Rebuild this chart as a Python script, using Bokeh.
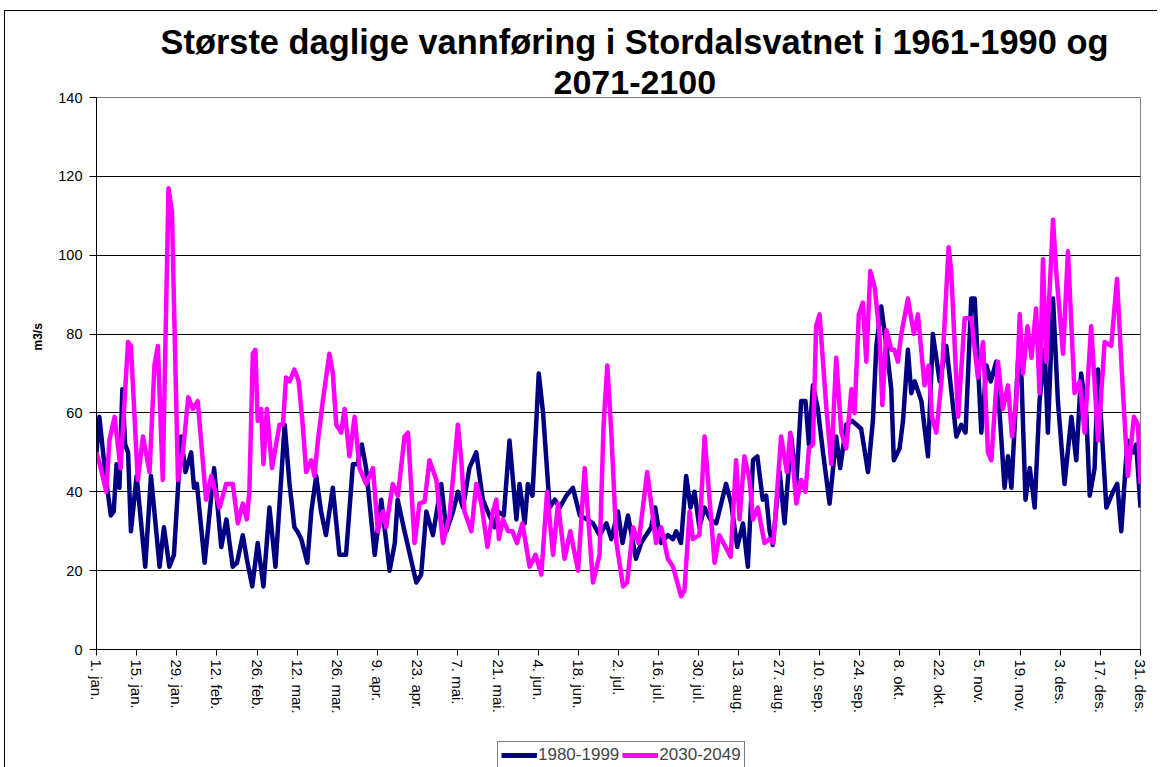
from bokeh.plotting import figure
from bokeh.models import FixedTicker, Range1d, Legend, LegendItem, Title
from bokeh.layouts import column
from bokeh.embed import file_html
from bokeh.resources import INLINE

# ---- data (day of year, m3/s) ----
days_1980 = [1, 2, 4, 6, 7, 8, 9, 10, 11, 12, 13, 15, 18, 20, 23, 24.5, 26.4, 28, 30.5, 32, 34, 35, 36, 38.7,
             42, 44.5, 46.3, 48.5, 50, 52, 53.4, 55.3, 57.2, 59.2, 61.3, 63.4, 66.6, 68.3, 70, 71, 72.4, 74.5,
             75.9, 77.6, 79.3, 81, 83.4, 85.7, 88, 90.4, 92, 93.5, 95, 98, 100.3, 103.2, 105, 106, 108.4, 112.5,
             114.2, 116, 118.3, 121.2, 123, 125.3, 127, 128.8, 131, 133.4, 135.7, 138, 139.8, 141, 143, 145,
             147.4, 148.5, 150.3, 151.4, 153, 155.2, 156.7, 159, 160.8, 162.5, 164.8, 167.1, 169.5, 172, 174.1,
             176.4, 178.8, 180.5, 182.8, 184.4, 186.3, 188.1, 189.1, 190.9, 192.6, 194.4, 195.8, 196.7, 197.9,
             200.2, 202, 203.1, 204.8, 206.6, 208.1, 209.5, 211.2, 213, 215, 217.1, 220.5, 222.3, 224.4, 226.4,
             228.1, 229.9, 231.4, 233.3, 234.5, 235.7, 236.8, 239.2, 240.9, 243.2, 245, 246.7, 248.2, 249.4,
             250.8, 252.5, 254.3, 256.6, 258.9, 260.3, 262.4, 264.5, 267.6, 270, 271.7, 272.9, 274.6, 276.4,
             278.1, 279, 281, 282.2, 283.9, 285.1, 286.3, 288.6, 290.9, 292.6, 295, 297.3, 300.8, 302.5, 304,
             306, 307.2, 309.5, 311.3, 312.8, 314.7, 317.6, 318.8, 320, 322.3, 323.5, 324.9, 326.4, 328.1,
             329.8, 331.6, 332.7, 334.5, 336.2, 338.5, 340.9, 342.6, 344.3, 346.1, 347.3, 349, 350.2, 353.1,
             355.4, 356.9, 358.3, 360.4, 362.4, 363.5, 365]
flow_1980 = [50, 59, 45, 34, 35, 47, 41, 66, 52, 50, 30, 44, 21, 44, 21, 31, 21, 24, 54, 45, 50, 41, 42, 22,
             46, 26, 33, 21, 22, 29, 23, 16, 27, 16, 36, 21, 57, 42, 31, 30, 28, 22,
             35, 44, 35, 29, 41, 24, 24, 47, 47, 52, 46, 24, 38, 20, 27, 38, 30, 17,
             19, 35, 29, 42, 30, 35, 40, 36, 46, 50, 38, 34, 31, 35, 34, 53,
             33, 42, 32, 42, 39, 70, 60, 36, 38, 36, 39, 41, 34, 33, 32,
             29, 32, 28, 35, 27, 34, 27, 23, 27, 29, 31, 36, 32, 27,
             29, 28, 30, 27, 44, 36, 40, 31, 36, 33, 32, 42, 37, 26, 32,
             21, 48, 49, 38, 39, 30, 26.5, 45, 32, 54, 42, 63, 63, 52,
             67, 61, 50, 37, 54, 46, 57, 58, 56, 45, 58, 77, 87, 77,
             66, 48, 51, 58, 76, 65, 68, 63, 49, 80, 68, 77, 54, 57, 55,
             89, 89, 55, 72, 68, 73, 41, 49, 41, 73, 69, 38, 46, 36,
             63, 76, 55, 89, 63, 42, 59, 48, 70, 60, 39, 46, 71, 36,
             40, 42, 30, 53, 50, 52, 36]

days_2030 = [1, 2.5, 4.4, 5.5, 7.3, 9.4, 12, 13, 15.4, 17.2, 19.5, 21.2, 22.4, 24.1, 26.1, 27.3, 29.4, 31.1, 33,
             34.6, 36.3, 39.2, 41, 43.9, 46.2, 48.5, 50.3, 52, 53.4, 54.3, 55.5, 56.4, 57.2, 58.4, 59.2, 60.4,
             62.2, 64.8, 66, 67.1, 68.3, 70, 71.5, 72.9, 74.1, 75.9, 77, 78.2, 79.9, 82.2, 83.4, 84.6, 86.3,
             87.5, 89.2, 91, 92.7, 95, 97.4, 99.1, 100.9, 102, 104.3, 106.1, 108.4, 109.6, 111.9, 113.6, 115.4,
             117.1, 119.5, 121.8, 124.1, 127, 128.2, 129.3, 131.7, 133.4, 135.2, 137.3, 139.2, 140.4, 141.3,
             142.7, 144.5, 146, 147.6, 149.5, 152, 154.1, 156.1, 158.1, 160.2, 161.9, 164.2, 166.2, 168.9,
             171.2, 174.1, 176.4, 177.8, 179.1, 180.5, 182.3, 184.6, 186, 188.1, 190, 193, 194.4, 196.1, 197.9,
             200.2, 202, 204.8, 206, 207.8, 208.9, 211.2, 213, 214.1, 216.5, 218.2, 222.1, 224, 225.2, 226.9,
             228.7, 229.9, 231.6, 233.9, 235.5, 237, 239.7, 241.7, 242.9, 245, 246.7, 248.2, 249.4, 250.8,
             251.9, 253.1, 255.4, 257.2, 258.9, 260.7, 262.4, 264.2, 265.3, 266.8, 268.2, 269.4, 270.8, 272.3,
             274, 275, 276.4, 278.1, 279.2, 280.4, 281.6, 283.9, 286, 287.4, 289.7, 291.1, 292.3, 293.8, 295.6,
             298.1, 299, 301.4, 303.7, 306, 308.3, 310.1, 311.8, 313, 315.3, 317, 318.8, 320.2, 321.7, 322.9,
             324, 325.6, 327, 328.6, 329.8, 331, 332.1, 334.5, 335.6, 338, 339.7, 342, 343.8, 345.5, 347.8,
             350.2, 352.5, 354.8, 356.8, 358.9, 360.6, 362.7, 364.1, 365]
flow_2030 = [50, 46, 40, 53, 59, 46, 78, 77, 43, 54, 45, 72, 77, 43, 117, 111, 43, 50, 64,
             61, 63, 38, 44, 36, 42, 42, 32, 37, 33, 40, 75, 76, 58, 61, 47, 61,
             46, 57, 57, 69, 68, 71, 68, 57, 45, 48, 44, 53, 63, 75, 70, 57, 55,
             61, 49, 59, 46, 42, 46, 30, 35, 31, 42, 39, 54, 55, 27, 37, 37.5,
             48, 43, 27, 34, 57, 48, 35, 30, 42, 37, 26, 35, 38, 28,
             33, 30, 30, 27, 32, 21, 24, 19, 40, 24, 37, 23, 30, 20,
             46, 17, 24, 57, 72, 55, 27, 16, 17, 31, 27, 45, 37, 27, 31,
             23, 21, 13.5, 15, 35, 28, 29, 54, 44, 22, 29, 23.5, 48, 33, 49,
             43, 33, 36, 27, 28, 27, 54, 45, 55, 37, 43, 40, 51, 52,
             82, 85, 62, 47, 74, 55, 51, 66, 60, 85, 88, 73, 96, 92,
             80, 62, 81, 76, 76, 73, 80, 89, 80, 85, 67, 72, 59, 55, 68,
             102, 96, 59, 84, 84, 69, 78, 50, 48, 73, 61, 67, 54, 63, 85,
             70, 82, 74, 86.5, 65, 99, 73, 109, 96, 75, 101, 65, 68, 55, 82,
             53, 78, 77, 94, 65, 44, 59, 57, 42]

tick_days = [1, 15, 29, 43, 57, 71, 85, 99, 113, 127, 141, 155, 169, 183, 197, 211, 225, 239, 253,
             267, 281, 295, 309, 323, 337, 351, 365]
tick_labels = ["1. jan.", "15. jan.", "29. jan.", "12. feb.", "26. feb.", "12. mar.", "26. mar.", "9. apr.",
               "23. apr.", "7. mai.", "21. mai.", "4. jun.", "18. jun.", "2. jul.", "16. jul.", "30. jul.",
               "13. aug.", "27. aug.", "10. sep.", "24. sep.", "8. okt.", "22. okt.", "5. nov.", "19. nov.",
               "3. des.", "17. des.", "31. des."]
y_ticks = [0, 20, 40, 60, 80, 100, 120, 140]

title_lines = ["Største daglige vannføring i Stordalsvatnet i 1961-1990 og", "2071-2100"]
y_title = "m3/s"
series_names = ["1980-1999", "2030-2049"]
series_colors = ["#000080", "#FF00FF"]
FONT = "Liberation Sans"

# outer chart-area border starts at (4, 10); content begins 1px inside it
OX, OY = 5, 11
W = 1157 - OX
MAIN_H = 733 - OY
LEG_H = 34

p = figure(width=W, height=MAIN_H, output_backend="svg", toolbar_location=None,
           x_range=Range1d(1, 365), y_range=Range1d(0, 140),
           min_border_left=96 - OX, min_border_right=17, min_border_top=97 - OY, min_border_bottom=84)
p.background_fill_color = "white"
p.border_fill_color = "white"
p.outline_line_color = "#808080"
p.outline_line_width = 1

r1 = p.line(days_1980, flow_1980, line_color=series_colors[0], line_width=4.5, line_join="round")
r2 = p.line(days_2030, flow_2030, line_color=series_colors[1], line_width=4.5, line_join="round")

# axes
xa = p.xaxis[0]
xa.ticker = FixedTicker(ticks=tick_days)
xa.major_label_overrides = {d: s for d, s in zip(tick_days, tick_labels)}
xa.major_label_orientation = "vertical"
xa.major_tick_out = 6
xa.major_tick_in = 0
xa.minor_tick_out = 0
xa.minor_tick_in = 0
xa.major_label_standoff = 4
xa.major_label_text_font = FONT
xa.major_label_text_font_size = "15px"
xa.major_label_text_color = "black"
xa.axis_line_color = "black"
xa.major_tick_line_color = "black"

ya = p.yaxis[0]
ya.ticker = FixedTicker(ticks=y_ticks)
ya.major_tick_out = 7
ya.major_tick_in = 0
ya.minor_tick_out = 0
ya.minor_tick_in = 0
ya.major_label_standoff = 7
ya.major_label_text_font = FONT
ya.major_label_text_font_size = "14.5px"
ya.major_label_text_color = "black"
ya.axis_line_color = "black"
ya.major_tick_line_color = "black"

# y-axis title placed above the vertical centre, like the reference
p.add_layout(Title(text=y_title, align="left", offset=299, standoff=21,
                   text_font=FONT, text_font_size="12px", text_font_style="bold",
                   text_color="black"), "left")

p.xgrid.visible = False
p.ygrid.ticker = FixedTicker(ticks=y_ticks)
p.ygrid.grid_line_color = "black"
p.ygrid.grid_line_width = 1

# two-line chart title (first added = closest to the plot)
p.add_layout(Title(text=title_lines[1], align="left", offset=457, standoff=8,
                   text_font=FONT, text_font_size="34px", text_font_style="bold",
                   text_color="black"), "above")
p.add_layout(Title(text=title_lines[0], align="left", offset=64, standoff=8,
                   text_font=FONT, text_font_size="34.4px", text_font_style="bold",
                   text_color="black"), "above")

# legend strip below the chart (its proxy lines use the series but lie outside its empty view)
pl = figure(width=W, height=LEG_H, output_backend="svg", toolbar_location=None,
            x_range=Range1d(1, 365), y_range=Range1d(-1000, -999), x_axis_type=None, y_axis_type=None,
            min_border=0, min_border_left=0, min_border_right=0, min_border_top=0, min_border_bottom=0)
pl.outline_line_color = None
pl.xgrid.visible = False
pl.ygrid.visible = False
l1 = pl.line(days_1980, flow_1980, line_color=series_colors[0], line_width=5)
l2 = pl.line(days_2030, flow_2030, line_color=series_colors[1], line_width=5)
legend = Legend(items=[LegendItem(label=series_names[0], renderers=[l1]),
                       LegendItem(label=series_names[1], renderers=[l2])],
                orientation="horizontal", location=(401, -2),
                border_line_color="black", border_line_width=1,
                label_text_font=FONT, label_text_font_size="17px",
                glyph_width=36, glyph_height=16, label_standoff=1, spacing=3,
                padding=3, margin=0, background_fill_alpha=1.0)
pl.add_layout(legend, "center")

layout = column(p, pl, spacing=0,
                styles={"margin-left": "4px", "margin-top": "10px",
                        "border-left": "1px solid black", "border-top": "1px solid black"})
open("out.html", "w").write(file_html(layout, INLINE))
